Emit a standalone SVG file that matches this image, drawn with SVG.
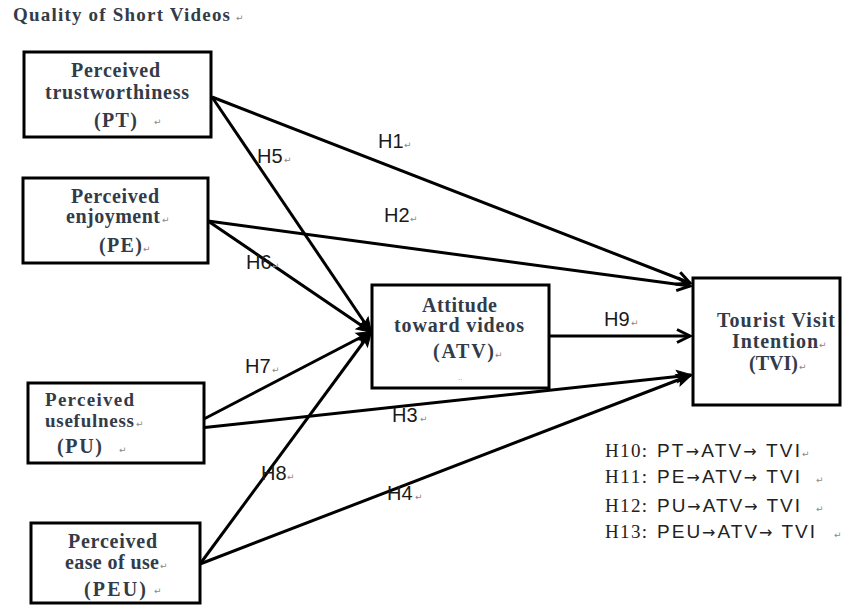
<svg xmlns="http://www.w3.org/2000/svg" width="844" height="605" viewBox="0 0 844 605">
<style>
.bx{fill:#fff;stroke:#000;stroke-width:3}
.lb{font-family:"Liberation Serif","Times New Roman",serif;font-weight:bold;font-size:20px;fill:#333b48}
.tt{font-size:19px}
.sm{font-size:19px}
.h{font-family:"Liberation Sans",Arial,sans-serif;font-size:20px;fill:#1a1a1a}
.lg{font-size:19px;fill:#222}
.sf{font-family:"Liberation Serif","Times New Roman",serif}
.ss{font-family:"Liberation Sans",Arial,sans-serif}
.ar{font-family:"DejaVu Sans",sans-serif;font-size:16px}
.rm{font-family:"DejaVu Sans",sans-serif;font-size:9px;fill:#888}
.ln{stroke:#000;stroke-width:3;fill:none}
</style>
<defs>
<marker id="open" viewBox="-16 -9 18 18" markerWidth="18" markerHeight="18" refX="0" refY="0" orient="auto" markerUnits="userSpaceOnUse" overflow="visible">
<path d="M-13,-6.5 L0,0 L-13,6.5" fill="none" stroke="#000" stroke-width="3"/>
</marker>
<marker id="fill" viewBox="-16 -9 18 18" markerWidth="18" markerHeight="18" refX="0" refY="0" orient="auto" markerUnits="userSpaceOnUse" overflow="visible">
<path d="M-14,-6 L1,0 L-14,6 L-11,0 z" fill="#000" stroke="#000" stroke-width="1"/>
</marker>
</defs>

<text class="lb tt" x="13" y="21" textLength="217" lengthAdjust="spacing">Quality of Short Videos</text>
<text class="rm" x="236" y="21">↵</text>

<g id="connectors">
<path id="e-h1" class="ln" d="M212,97 L690,283" marker-end="url(#open)"/>
<path id="e-h5" class="ln" d="M212,97 L371,332" marker-end="url(#fill)"/>
<path id="e-h2" class="ln" d="M208,221 L690,286" marker-end="url(#open)"/>
<path id="e-h6" class="ln" d="M208,221 L371,332" marker-end="url(#fill)"/>
<path id="e-h9" class="ln" d="M549,336 L690,336" marker-end="url(#open)"/>
<path id="e-h7" class="ln" d="M202,420 L371,332" marker-end="url(#fill)"/>
<path id="e-h3" class="ln" d="M200,428 L691,375" marker-end="url(#fill)"/>
<path id="e-h8" class="ln" d="M200,564 L371,332" marker-end="url(#fill)"/>
<path id="e-h4" class="ln" d="M200,564 L691,375" marker-end="url(#fill)"/>
</g>

<g id="edge-labels">
<text class="h" x="378" y="148">H1</text><text class="rm" x="404" y="148">↵</text>
<text class="h" x="257" y="163">H5</text><text class="rm" x="284" y="163">↵</text>
<text class="h" x="384" y="222">H2</text><text class="rm" x="410" y="222">↵</text>
<text class="h" x="246" y="269">H6</text><text class="rm" x="272" y="269">↵</text>
<text class="h" x="245" y="373">H7</text><text class="rm" x="272" y="373">↵</text>
<text class="h" x="604" y="326">H9</text><text class="rm" x="631" y="326">↵</text>
<text class="h" x="392" y="422">H3</text><text class="rm" x="420" y="422">↵</text>
<text class="h" x="261" y="480">H8</text><text class="rm" x="287" y="480">↵</text>
<text class="h" x="387" y="500">H4</text><text class="rm" x="415" y="500">↵</text>
</g>

<g id="PT">
<rect class="bx" x="24" y="52" width="187" height="85"/>
<text class="lb" x="71" y="77" textLength="89">Perceived</text>
<text class="lb" x="45" y="99" textLength="144">trustworthiness</text>
<text class="lb" x="94" y="127" textLength="43">(PT)</text>
<text class="rm" x="154" y="125">↵</text>
</g>

<g id="PE">
<rect class="bx" x="23" y="178" width="185" height="85"/>
<text class="lb" x="71" y="203" textLength="88">Perceived</text>
<text class="lb" x="66" y="223" textLength="94">enjoyment</text>
<text class="rm" x="162" y="223">↵</text>
<text class="lb" x="99" y="252" textLength="43">(PE)</text>
<text class="rm" x="143" y="252">↵</text>
</g>

<g id="PU">
<rect class="bx" x="28" y="383" width="176" height="80"/>
<text class="lb sm" x="45" y="406" textLength="89">Perceived</text>
<text class="lb sm" x="45" y="427" textLength="89">usefulness</text>
<text class="rm" x="136" y="427">↵</text>
<text class="lb" x="57" y="453" textLength="45">(PU)</text>
<text class="rm" x="119" y="453">↵</text>
</g>

<g id="PEU">
<rect class="bx" x="31" y="523" width="169" height="80"/>
<text class="lb" x="68" y="548" textLength="89">Perceived</text>
<text class="lb" x="65" y="569" textLength="94">ease of use</text>
<text class="rm" x="160" y="569">↵</text>
<text class="lb" x="84" y="596" textLength="62">(PEU)</text>
<text class="rm" x="154" y="594">↵</text>
</g>

<g id="ATV">
<rect class="bx" x="372" y="285" width="177" height="103"/>
<text class="lb" x="422" y="312" textLength="75">Attitude</text>
<text class="lb" x="394" y="332" textLength="130">toward videos</text>
<text class="lb" x="433" y="358" textLength="61">(ATV)</text>
<text class="rm" x="495" y="358">↵</text>
<text class="rm" x="458" y="380" style="font-size:7px">..</text>
</g>

<g id="TVI">
<rect class="bx" x="693" y="278" width="147" height="127"/>
<text class="lb" x="717" y="327" textLength="118">Tourist Visit</text>
<text class="lb" x="732" y="348" textLength="86">Intention</text>
<text class="rm" x="819" y="348">↵</text>
<text class="lb" x="749" y="370" textLength="49">(TVI)</text>
<text class="rm" x="799" y="370">↵</text>
</g>

<g id="legend">
<text class="lg sf" x="605" y="457" textLength="42">H10:</text>
<text class="lg ss" x="657" y="457" textLength="143">PT<tspan class="ar">→</tspan>ATV<tspan class="ar">→</tspan> TVI</text>
<text class="rm" x="802" y="457">↵</text>
<text class="lg sf" x="605" y="483" textLength="42">H11:</text>
<text class="lg ss" x="657" y="483" textLength="143">PE<tspan class="ar">→</tspan>ATV<tspan class="ar">→</tspan> TVI</text>
<text class="rm" x="816" y="483">↵</text>
<text class="lg sf" x="605" y="512" textLength="42">H12:</text>
<text class="lg ss" x="657" y="512" textLength="143">PU<tspan class="ar">→</tspan>ATV<tspan class="ar">→</tspan> TVI</text>
<text class="rm" x="816" y="512">↵</text>
<text class="lg sf" x="605" y="538" textLength="42">H13:</text>
<text class="lg ss" x="657" y="538" textLength="158">PEU<tspan class="ar">→</tspan>ATV<tspan class="ar">→</tspan> TVI</text>
<text class="rm" x="834" y="538">↵</text>
</g>
</svg>
